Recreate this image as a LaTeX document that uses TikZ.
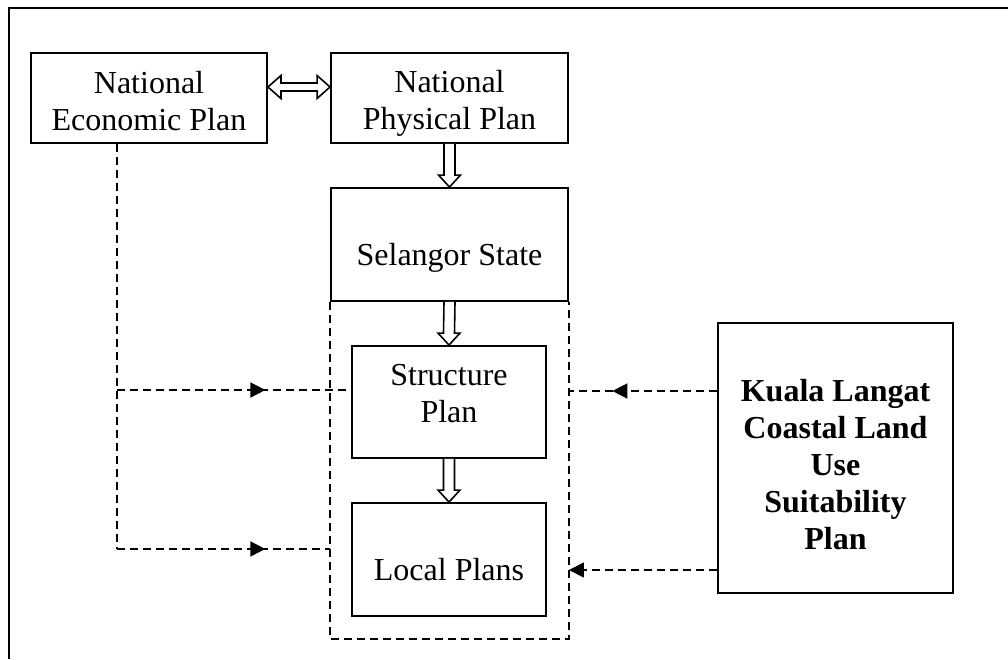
\documentclass[tikz,border=0pt]{standalone}
\usepackage{fontspec}
\setmainfont{Liberation Serif}
\usetikzlibrary{calc,arrows.meta,decorations.markings}
\tikzset{
  box/.style={draw, line width=1.9pt, inner sep=0pt},
  lbl/.style={font=\fontsize{32}{37}\selectfont, align=center, inner sep=0pt},
  blbl/.style={lbl, font=\fontsize{32}{37}\selectfont\bfseries},
  dsh/.style={line width=1.6pt, dash pattern=on 8pt off 5pt},
  blk/.style={line width=1.6pt, fill=white, line join=miter},
  arrowmid/.style={postaction={decorate}, decoration={markings,
     mark=at position #1 with {\arrow{Triangle[length=15pt,width=15pt]}}}},
}
\newcommand\vblockarrow[2]{%
  \draw[blk] ($(#1.south)+(-5.5,0)$) -- ($(#2.north)+(-5.5,-12)$) -- ($(#2.north)+(-11,-12)$)
    -- (#2.north) -- ($(#2.north)+(11,-12)$) -- ($(#2.north)+(5.5,-12)$) -- ($(#1.south)+(5.5,0)$);}
\begin{document}
\begin{tikzpicture}[x=1pt,y=-1pt]
\useasboundingbox (0,0) rectangle (1008,659);
\draw[line width=2.2pt] (9,659) -- (9,8) -- (1008,8);

% boxes
\node[box, minimum width=236pt, minimum height=90pt] (nep) at (149,98) {};
\node[box, minimum width=237pt, minimum height=90pt] (npp) at (449.5,98) {};
\node[box, minimum width=237pt, minimum height=113pt] (sel) at (449.5,244.5) {};
\node[box, minimum width=194pt, minimum height=112pt] (str) at (449,402) {};
\node[box, minimum width=194pt, minimum height=113pt] (loc) at (449,559.5) {};
\node[box, minimum width=235pt, minimum height=270pt] (kl) at (835.5,458) {};

% texts
\node[lbl] (nepT) at (149,101) {National\\Economic Plan};
\node[lbl] (nppT) at (449.5,103) {National\\Physical Plan};
\node[lbl] (selT) at (449.5,258) {Selangor State};
\node[lbl] (strT) at (449,394) {Structure\\Plan};
\node[lbl] (locT) at (449,569.5) {Local Plans};
\node[blbl] (klT) at (835.5,465) {Kuala Langat\\Coastal Land\\Use\\Suitability\\Plan};

% dashed frame under Selangor State
\draw[dsh] (sel.south west) -- ++(0,337) -| (sel.south east);

% block arrows
\coordinate (hl) at ($(nep.east)+(0,-11)$);
\coordinate (hr) at ($(npp.west)+(0,-11)$);
\draw[blk] (hl) -- ($(hl)+(13,-11.5)$) -- ($(hl)+(13,-4)$) -- ($(hr)+(-13,-4)$) -- ($(hr)+(-13,-11.5)$)
  -- (hr) -- ($(hr)+(-13,11.5)$) -- ($(hr)+(-13,4)$) -- ($(hl)+(13,4)$) -- ($(hl)+(13,11.5)$) -- cycle;
\vblockarrow{npp}{sel}
\vblockarrow{sel}{str}
\vblockarrow{str}{loc}

% dashed connectors, left
\coordinate (lv) at ($(nep.south)+(-32,0)$);
\coordinate (lbot) at ($(lv)+(0,405)$);
\coordinate (sw) at ($(str.west)+(0,-12)$);
\draw[dsh] (lv) -- (lbot);
\draw[dsh, arrowmid=0.634] (lv |- sw) -- (sw);
\draw[dsh, arrowmid=0.696] (lbot) -- (lbot -| sel.west);

% dashed connectors, right
\coordinate (ku) at ($(kl.west)+(0,-67)$);
\coordinate (kd) at ($(kl.west)+(0,112)$);
\draw[dsh, arrowmid=0.707] (ku) -- (ku -| sel.east);
\draw[dsh, -{Triangle[length=15pt,width=15pt]}] (kd) -- (kd -| sel.east);
\end{tikzpicture}
\end{document}
